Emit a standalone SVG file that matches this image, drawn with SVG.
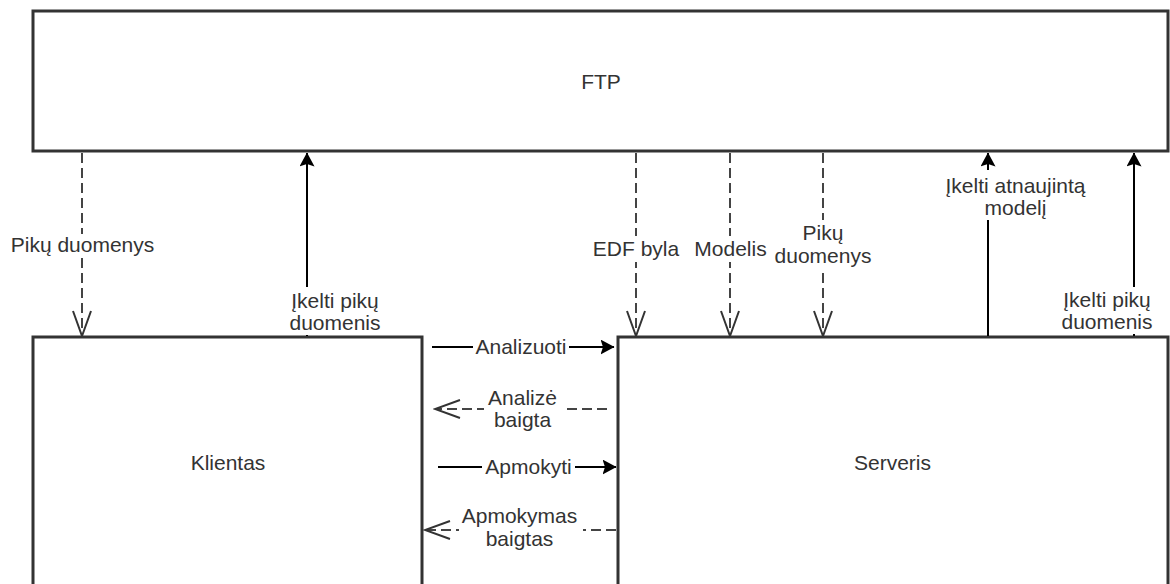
<svg xmlns="http://www.w3.org/2000/svg" width="1170" height="584" viewBox="0 0 1170 584">
<style>
.box{fill:#fff;stroke:#333;stroke-width:3}
.t{font-family:"Liberation Sans",Arial,sans-serif;font-size:21px;fill:#333;text-anchor:middle}
.solid{stroke:#000;stroke-width:2;fill:none}
.dash{stroke:#444;stroke-width:2;fill:none;stroke-dasharray:10 5}
.bg{fill:#fff}
</style>
<defs>
<marker id="fill" markerUnits="userSpaceOnUse" viewBox="0 0 14 15" refX="13.5" refY="7.5" markerWidth="14" markerHeight="15" orient="auto">
<path d="M0,0 L14,7.5 L0,15 L2.5,7.5 Z" fill="#000"/>
</marker>
<marker id="open" markerUnits="userSpaceOnUse" viewBox="0 0 28 20" refX="26" refY="10" markerWidth="28" markerHeight="20" orient="auto">
<path d="M1,1 L26,10 L1,19" fill="none" stroke="#333" stroke-width="2" stroke-dasharray="none"/>
</marker>
</defs>
<g id="ftp">
<rect class="box" x="33" y="11" width="1135" height="140"/>
<text class="t" x="601" y="89">FTP</text>
</g>
<g id="klientas">
<rect class="box" x="33" y="337" width="389" height="270"/>
<text class="t" x="228" y="470">Klientas</text>
</g>
<g id="serveris">
<rect class="box" x="618" y="337" width="550" height="270"/>
<text class="t" x="892.5" y="470">Serveris</text>
</g>
<g id="connectors">
<line class="dash" x1="82" y1="153" x2="82" y2="336" marker-end="url(#open)"/>
<line class="solid" x1="307" y1="336" x2="307" y2="153" marker-end="url(#fill)"/>
<line class="dash" x1="636" y1="153" x2="636" y2="336" marker-end="url(#open)"/>
<line class="dash" x1="730" y1="153" x2="730" y2="336" marker-end="url(#open)"/>
<line class="dash" x1="823" y1="153" x2="823" y2="336" marker-end="url(#open)"/>
<line class="solid" x1="988" y1="336" x2="988" y2="153" marker-end="url(#fill)"/>
<line class="solid" x1="1134" y1="336" x2="1134" y2="153" marker-end="url(#fill)"/>
<line class="solid" x1="432" y1="347" x2="614" y2="347" marker-end="url(#fill)"/>
<line class="dash" x1="607" y1="409" x2="435" y2="409" marker-end="url(#open)"/>
<line class="solid" x1="438" y1="467" x2="616" y2="467" marker-end="url(#fill)"/>
<line class="dash" x1="616" y1="530" x2="425" y2="530" marker-end="url(#open)"/>

<rect class="bg" x="8" y="234" width="150" height="24"/>
<text class="t" x="82.5" y="252">Pikų duomenys</text>

<rect class="bg" x="287" y="287" width="96" height="48"/>
<text class="t" x="335" y="308">Įkelti pikų</text>
<text class="t" x="335" y="330">duomenis</text>

<rect class="bg" x="591" y="236" width="90" height="26"/>
<text class="t" x="636" y="256">EDF byla</text>

<rect class="bg" x="692" y="236" width="77" height="26"/>
<text class="t" x="730.5" y="256">Modelis</text>

<rect class="bg" x="773" y="220" width="102" height="51"/>
<text class="t" x="823" y="240">Pikų</text>
<text class="t" x="823" y="263">duomenys</text>

<rect class="bg" x="942" y="170" width="148" height="50"/>
<text class="t" x="1015.5" y="193">Įkelti atnaujintą</text>
<text class="t" x="1015.5" y="215">modelį</text>

<rect class="bg" x="1061" y="287" width="93" height="47"/>
<text class="t" x="1107" y="307">Įkelti pikų</text>
<text class="t" x="1107" y="329">duomenis</text>

<rect class="bg" x="473" y="334" width="96" height="26"/>
<text class="t" x="521" y="354">Analizuoti</text>

<rect class="bg" x="484" y="388" width="78" height="44"/>
<text class="t" x="522.5" y="405">Analizė</text>
<text class="t" x="522.5" y="427">baigta</text>

<rect class="bg" x="482" y="454" width="93" height="26"/>
<text class="t" x="528.5" y="474">Apmokyti</text>

<rect class="bg" x="459" y="505" width="124" height="46"/>
<text class="t" x="519.5" y="523">Apmokymas</text>
<text class="t" x="519.5" y="546">baigtas</text>
</g>
</svg>
